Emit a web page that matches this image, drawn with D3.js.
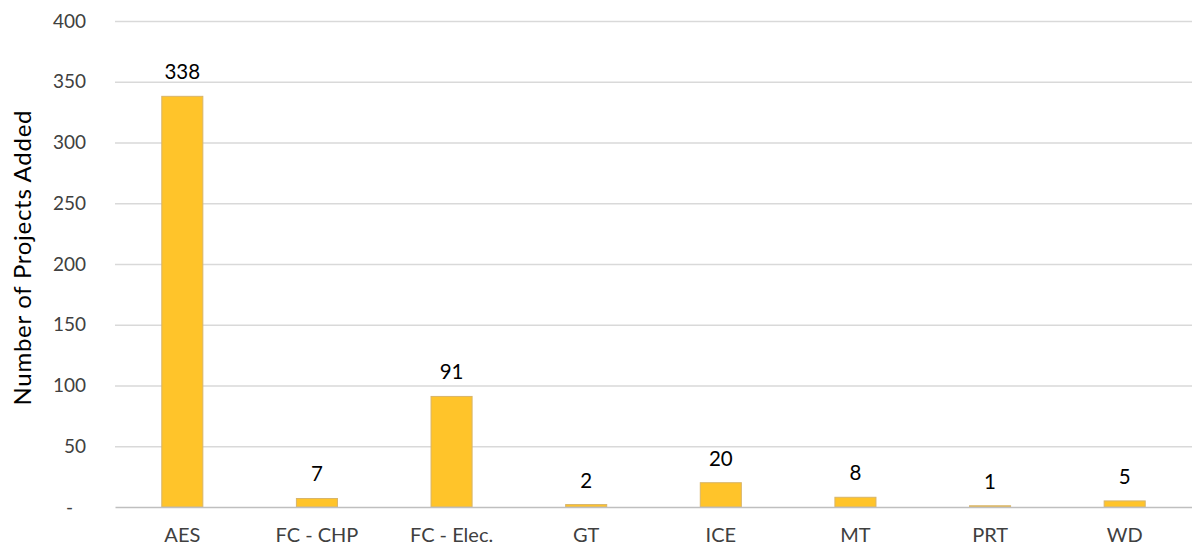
<!DOCTYPE html>
<html>
<head>
<meta charset="utf-8">
<script src="https://cdn.jsdelivr.net/npm/d3@7"></script>
<style>
  body { margin: 0; background: #fff; }
  text { font-family: Lato, "Open Sans", sans-serif; }
</style>
</head>
<body>
<div id="chart"></div>
<script>
var categories = ["AES", "FC - CHP", "FC - Elec.", "GT", "ICE", "MT", "PRT", "WD"]
var projects = [338, 7, 91, 2, 20, 8, 1, 5]
var yTicks = [0, 50, 100, 150, 200, 250, 300, 350, 400]

var margin = { top: 21, right: 0, bottom: 41, left: 115 }
var width = 1192 - margin.left - margin.right,
    height = 548 - margin.top - margin.bottom

var svg = d3.select("#chart").append("svg")
    .attr("width", width + margin.left + margin.right)
    .attr("height", height + margin.top + margin.bottom)
  .append("g")
    .attr("transform", "translate(" + margin.left + "," + margin.top + ")")

var x = d3.scaleBand()
    .domain(categories)
    .range([0, width])
    .paddingInner(0.695)
    .paddingOuter(0.3475)

var y = d3.scaleLinear()
    .domain([0, 400])
    .range([486, 0])

// gridlines
svg.selectAll(".grid")
  .data(yTicks.filter(function(d) { return d > 0 }))
  .enter().append("line")
    .attr("x1", 0).attr("x2", width)
    .attr("y1", function(d) { return y(d) + 0.5 })
    .attr("y2", function(d) { return y(d) + 0.5 })
    .attr("stroke", "#d9d9d9")
    .attr("stroke-width", 1.3)

// y axis labels
var yAxis = d3.axisLeft(y)
    .tickValues(yTicks)
    .tickSize(0)
    .tickPadding(29)
    .tickFormat(function(d) { return d === 0 ? "-" : d })
var gy = svg.append("g").call(yAxis)
gy.select(".domain").remove()
gy.selectAll("text")
    .attr("fill", "#404040")
    .style("font-size", "19px")
gy.selectAll(".tick text")
    .filter(function(d) { return d === 0 })
    .attr("x", -42)

// bars
svg.selectAll(".bar")
  .data(projects)
  .enter().append("rect")
    .attr("class", "bar")
    .attr("x", function(d, i) { return x(categories[i]) })
    .attr("width", x.bandwidth())
    .attr("y", function(d) { return y(d) })
    .attr("height", function(d) { return y(0) - y(d) })
    .attr("fill", "#ffc42a")
    .attr("stroke", "#d8b56a")
    .attr("stroke-width", 1)

// value labels
svg.selectAll(".val")
  .data(projects)
  .enter().append("text")
    .attr("x", function(d, i) { return x(categories[i]) + x.bandwidth() / 2 })
    .attr("y", function(d) { return y(d) - 17 })
    .attr("text-anchor", "middle")
    .attr("fill", "#000")
    .style("font-size", "20.5px")
    .text(function(d) { return d })

// x axis
var gx = svg.append("g")
    .attr("transform", "translate(0," + y(0) + ")")
    .call(d3.axisBottom(x).tickSize(0).tickPadding(21))
gx.select(".domain")
    .attr("stroke", "#bfbfbf")
    .attr("stroke-width", 1.5)
gx.selectAll("text")
    .attr("fill", "#404040")
    .style("font-size", "20px")

// y title
svg.append("text")
    .attr("transform", "translate(" + (-84) + "," + 237 + ") rotate(-90)")
    .attr("text-anchor", "middle")
    .attr("fill", "#000")
    .style("font-size", "24px")
    .attr("textLength", 295)
    .text("Number of Projects Added")
</script>
</body>
</html>
